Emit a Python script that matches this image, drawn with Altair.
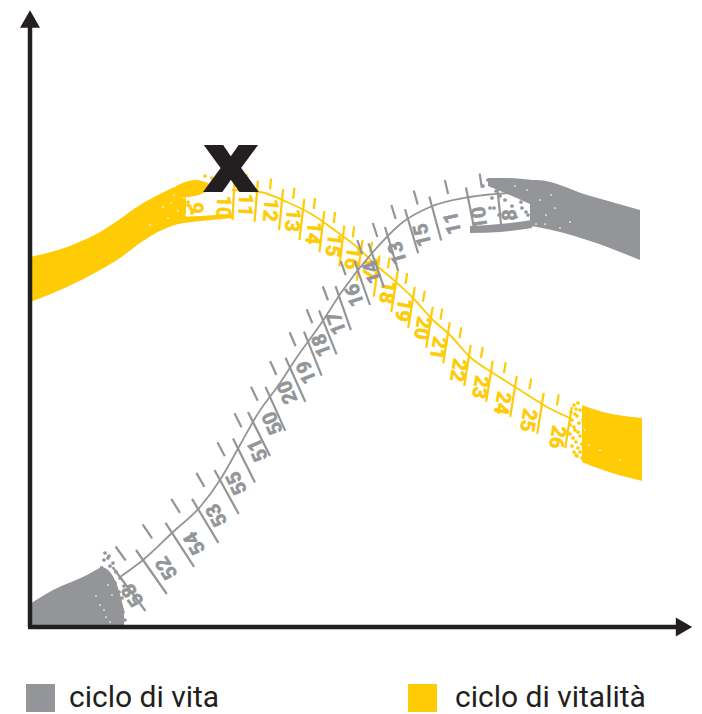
import altair as alt
import numpy as np
import pandas as pd

GREY = "#939598"
YELLOW = "#FFCB05"
BLACK = "#231F20"

y_line_x = [232, 260, 287, 313, 337, 357, 375, 397, 413, 433, 450, 470, 493, 520, 547, 572]
y_line_y = [190, 192, 202, 215, 232, 247, 264, 283, 298, 320, 335, 357, 373, 390, 407, 419]
g_line_x = [120, 143, 173, 200, 220, 240, 257, 280, 297, 320, 343, 373, 403, 430, 470, 510]
g_line_y = [577, 560, 532, 507, 480, 445, 415, 383, 357, 325, 290, 252, 222, 207, 197, 193]

y_major_x = [234, 257, 282, 303, 323, 343, 361, 378, 396, 413, 431, 448, 469, 491, 515, 542, 570]
y_tick_lean = [-0.05, -0.08, -0.1, -0.12, -0.12, -0.12, -0.14, -0.14, -0.16, -0.16, -0.16, -0.16, -0.16, -0.16, -0.16, -0.16, -0.16]
g_major_x = [120, 143, 172, 198, 220, 238, 253, 270, 290, 308, 323, 339, 358, 372, 388, 408, 432, 468, 498]
g_tick_lean = [0.75, 0.7, 0.65, 0.6, 0.55, 0.5, 0.5, 0.45, 0.45, 0.4, 0.4, 0.35, 0.35, 0.35, 0.3, 0.3, 0.27, 0.2, 0.1]

y_labels = ["9", "10", "11", "12", "13", "14", "15", "16", "17", "18", "19", "20", "21", "22", "23", "24", "25", "26"]
y_label_x = [195, 223, 245, 270, 292, 313, 333, 352, 370, 387, 403, 422, 438, 458, 480, 502, 528, 557]
y_label_y = [208, 207, 205, 210, 220, 233, 245, 258, 268, 292, 310, 328, 348, 370, 387, 403, 420, 437]
y_label_angle = [92, 92, 93, 95, 96, 97, 98, 98, 98, 100, 100, 100, 100, 100, 100, 100, 100, 100]
g_labels = ["58", "52", "54", "53", "55", "51", "50", "20", "19", "18", "17", "16", "14", "13", "15", "11", "10", "8"]
g_label_x = [133, 167, 195, 217, 237, 258, 273, 288, 307, 322, 337, 355, 373, 398, 423, 453, 480, 510]
g_label_y = [595, 568, 543, 515, 483, 450, 423, 392, 372, 345, 323, 295, 272, 253, 235, 223, 218, 215]
g_label_angle = [235, 237, 240, 242, 244, 246, 246, 248, 248, 250, 250, 252, 252, 254, 256, 258, 262, 268]

# brush bands: x, top, bottom
band_yl = ([30, 67, 100, 120, 140, 160, 178, 186],
           [257, 247, 232, 219, 205, 194, 186, 184],
           [302, 287, 270, 258, 243, 231, 224, 222])
band_yl_top = ([176, 195, 210], [186, 180, 184], [198, 196, 190])
band_yl_low = ([176, 200, 233], [217, 216, 214], [224, 221, 218])
band_yr = ([582, 603, 642], [405, 412, 418], [462, 470, 481])
band_gl = ([30, 53, 87, 103], [604, 590, 575, 566], [627, 627, 627, 627])
band_gl_end = ([100, 110, 117, 124], [566, 572, 585, 610], [627, 627, 627, 627])
band_gr = ([530, 537, 587, 640], [180, 180, 195, 210], [226, 227, 240, 260])
band_gr_top = ([488, 505, 532], [178, 178, 180], [186, 193, 205])
band_gr_low = ([470, 500, 532], [226, 224, 220], [233, 232, 228])

# scattered brush flecks at the ends of the bands
fleck_y_x = [571, 574, 576, 578, 572, 574, 577, 580, 570, 573, 575, 579, 572, 576, 580, 574, 578, 582, 577, 580, 570, 575, 576, 582, 578, 583,
             172, 176, 180, 184, 188, 192, 170, 166, 174, 205, 212, 183, 188, 180, 192]
fleck_y_y = [412, 405, 409, 403, 420, 427, 416, 410, 434, 438, 430, 423, 446, 442, 436, 452, 448, 444, 456, 452, 425, 414, 455, 458, 432, 420,
             200, 205, 196, 210, 202, 213, 214, 208, 220, 176, 178, 192, 205, 207, 210]
white_y_x = [585, 589, 600, 620, 150, 163, 171, 178, 184, 168, 174, 186]
white_y_y = [430, 445, 450, 460, 225, 207, 203, 211, 198, 218, 195, 215]
fleck_g_x = [104, 110, 113, 116, 120, 108, 115, 119, 122, 111, 118, 124, 112, 120, 125, 117, 123, 105, 109,
             483, 488, 492, 496, 505, 512, 518, 522, 526, 494, 499, 507, 516, 521, 528, 535, 537, 500, 490]
fleck_g_y = [560, 566, 563, 572, 578, 558, 583, 592, 598, 605, 612, 586, 618, 606, 620, 622, 612, 553, 556,
             186, 180, 198, 191, 200, 206, 196, 208, 212, 208, 215, 212, 217, 202, 215, 220, 212, 196, 208]
white_g_x = [108, 112, 100, 106, 96, 104, 110, 540, 546, 555, 545, 560, 570, 551, 536, 527, 515]
white_g_y = [585, 595, 605, 617, 596, 610, 622, 200, 215, 208, 224, 228, 222, 195, 224, 190, 186]


def band(b):
    return pd.DataFrame({"x": b[0], "y": b[1], "y2": b[2]})


xs = alt.Scale(domain=[8, 694], range=[0, 686])
ys = alt.Scale(domain=[8, 714], range=[0, 706])
X = alt.X("x:Q", scale=xs, axis=None)
Y = alt.Y("y:Q", scale=ys, axis=None)


def area(b, color):
    return alt.Chart(band(b)).mark_area(color=color, interpolate="monotone", opacity=1).encode(
        x=X, y=Y, y2="y2:Q")


def line(lx, ly, color):
    df = pd.DataFrame({"x": lx, "y": ly, "o": range(len(lx))})
    return alt.Chart(df).mark_line(color=color, strokeWidth=1.8, interpolate="monotone").encode(
        x=X, y=Y, order="o:Q")


def ticks(majors, lean, lx, ly, above, below, short0, short1, color):
    rows = []
    m = np.array(majors, float)
    le = np.array(lean, float)
    cy = np.interp(m, lx, ly)
    for a, b, s in zip(m, cy, le):
        rows.append((a - s * above, b - above, a + s * below, b + below))
    mid = (m[1:] + m[:-1]) / 2
    ml = (le[1:] + le[:-1]) / 2
    my = np.interp(mid, lx, ly)
    for a, b, s in zip(mid, my, ml):
        rows.append((a - s * short1, b - short1, a - s * short0, b - short0))
    df = pd.DataFrame(rows, columns=["x", "y", "x2", "y2"])
    return alt.Chart(df).mark_rule(color=color, strokeWidth=2.2).encode(x=X, y=Y, x2="x2:Q", y2="y2:Q")


def labels(t, lx, ly, ang, color):
    df = pd.DataFrame({"x": lx, "y": ly, "t": t, "a": ang})
    return alt.Chart(df).mark_text(color=color, font="Roboto", fontWeight="bold", fontSize=20,
                                   stroke=color, strokeWidth=0.6,
                                   align="center", baseline="middle").encode(
        x=X, y=Y, text="t:N", angle=alt.Angle("a:Q", scale=None))


def flecks(fx, fy, color, size):
    df = pd.DataFrame({"x": fx, "y": fy})
    return alt.Chart(df).mark_point(shape="circle", filled=True, color=color, opacity=1, size=size).encode(x=X, y=Y)


axes = pd.DataFrame({"x": [30, 28], "y": [627, 627], "x2": [30, 680], "y2": [26, 627]})
axis_rules = alt.Chart(axes).mark_rule(color=BLACK, strokeWidth=4.5).encode(x=X, y=Y, x2="x2:Q", y2="y2:Q")
arrow_up = alt.Chart(pd.DataFrame({"x": [30], "y": [19]})).mark_point(
    shape="triangle-up", filled=True, color=BLACK, opacity=1, size=400).encode(x=X, y=Y)
arrow_right = alt.Chart(pd.DataFrame({"x": [684], "y": [627]})).mark_point(
    shape="triangle-right", filled=True, color=BLACK, opacity=1, size=360).encode(x=X, y=Y)

cross = alt.Chart(pd.DataFrame({"x": [231], "y": [170], "t": ["x"]})).mark_text(
    font="DejaVu Sans", fontWeight="bold", fontSize=78, color=BLACK, stroke=BLACK, strokeWidth=4,
    align="center", baseline="middle", dy=-3).encode(x=X, y=Y, text="t:N")

swatch = pd.DataFrame({"x": [26, 408], "x2": [55, 437], "y": [684, 684], "y2": [712, 712], "c": [GREY, YELLOW]})
legend_rects = alt.Chart(swatch).mark_rect().encode(
    x=X, x2="x2:Q", y=Y, y2="y2:Q", color=alt.Color("c:N", scale=None))
legend_text = alt.Chart(pd.DataFrame({"x": [69, 455], "y": [707, 707], "t": ["ciclo di vita", "ciclo di vitalità"]})).mark_text(
    font="Roboto", fontSize=30, color=BLACK, align="left", baseline="alphabetic").encode(
    x=X, y=Y, text="t:N")

chart = alt.layer(
    area(band_yl, YELLOW), area(band_yl_top, YELLOW), area(band_yl_low, YELLOW), area(band_yr, YELLOW),
    flecks(fleck_y_x, fleck_y_y, YELLOW, 14),
    flecks(white_y_x, white_y_y, "white", 3),
    line(y_line_x, y_line_y, YELLOW),
    ticks(y_major_x, y_tick_lean, y_line_x, y_line_y, 11, 30, 6, 17, YELLOW),
    labels(y_labels, y_label_x, y_label_y, y_label_angle, YELLOW),
    cross,
    area(band_gr, GREY), area(band_gr_top, GREY), area(band_gr_low, GREY), area(band_gl, GREY), area(band_gl_end, GREY),
    flecks(fleck_g_x, fleck_g_y, GREY, 14),
    flecks(white_g_x, white_g_y, "white", 3),
    line(g_line_x, g_line_y, GREY),
    ticks(g_major_x, g_tick_lean, g_line_x, g_line_y, 10, 34, 8, 22, GREY),
    labels(g_labels, g_label_x, g_label_y, g_label_angle, GREY),
    axis_rules, arrow_up, arrow_right, legend_rects, legend_text,
).properties(width=686, height=706, padding=0, autosize=alt.AutoSizeParams(type="none")).configure_view(stroke=None)

chart.save("out.html", embed_options={"renderer": "svg", "actions": False})
